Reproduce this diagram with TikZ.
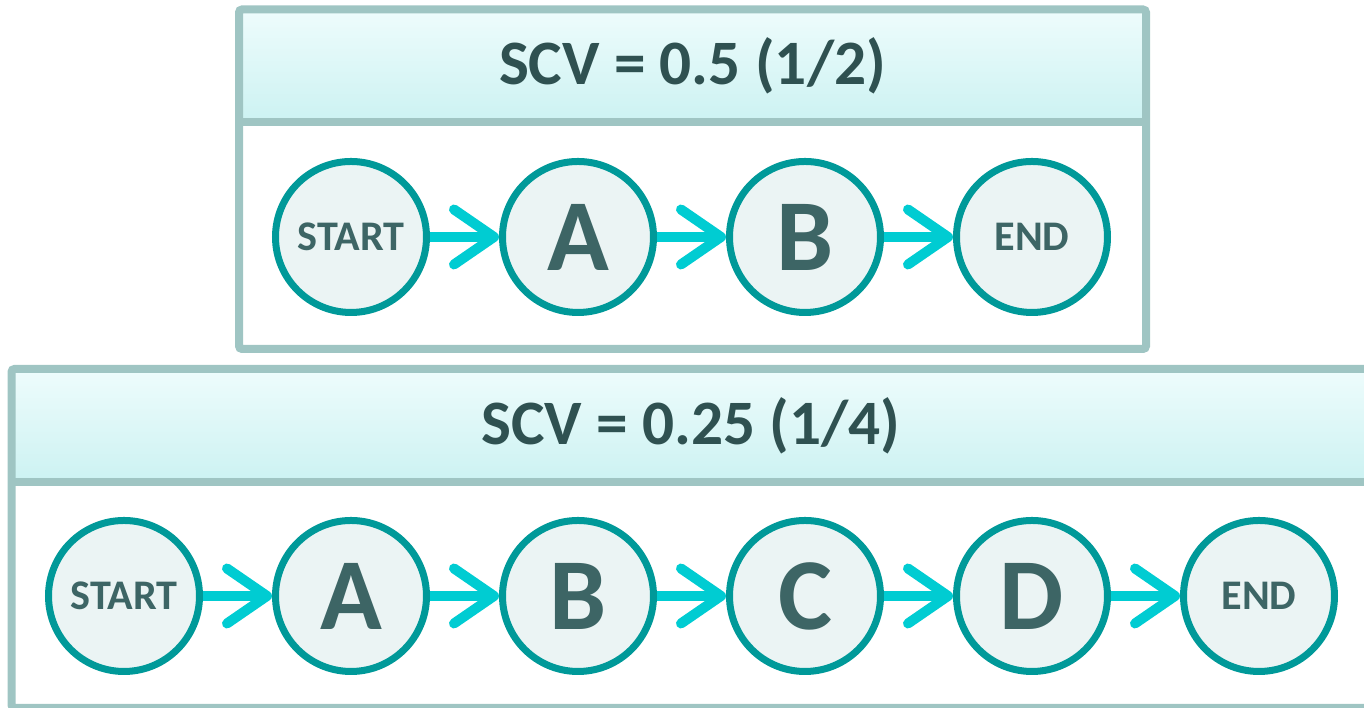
\documentclass[tikz,border=0pt]{standalone}
\usepackage{fontspec}
\setmainfont{Carlito}
\usetikzlibrary{positioning,arrows.meta}

\definecolor{frameline}{HTML}{9FC5C3}
\definecolor{headtop}{HTML}{EEFCFC}
\definecolor{headbottom}{HTML}{CCF2F2}
\definecolor{ringteal}{HTML}{009999}
\definecolor{ringfill}{HTML}{EBF4F4}
\definecolor{labeltext}{HTML}{3D6565}
\definecolor{titletext}{HTML}{2F5151}
\definecolor{flowcyan}{HTML}{00CCD2}

\begin{document}
\begin{tikzpicture}[node distance=0.69cm,
      circle node/.style={circle,draw=ringteal,fill=ringfill,line width=0.07cm,minimum size=1.51cm,inner sep=0pt,
        text=labeltext,font=\bfseries\fontsize{12}{12}\selectfont},
      big node/.style={circle node,font=\bfseries\fontsize{29}{29}\selectfont},
      flow arrow/.style={draw=flowcyan,line width=0.1cm,-{Straight Barb[length=0.4cm,width=0.55cm,round]}},
      frame/.style={draw=frameline,line width=0.08cm,rounded corners=0.03cm},
      header/.style={top color=headtop,bottom color=headbottom,draw=none},
      title node/.style={text=titletext,font=\bfseries\fontsize{18}{18}\selectfont}]

  \useasboundingbox (0,0) rectangle (13.64,7.08);

  % upper panel: two steps
  \path[header] (2.39,6.985) rectangle (11.46,5.86);
  \draw[frame] (2.39,6.985) rectangle (11.46,3.59);
  \draw[frameline,line width=0.08cm] (2.39,5.86) -- (11.46,5.86);
  \node[title node] (toptitle) at (6.925,6.42) {SCV = 0.5 (1/2)};

  \node[circle node] (topstart) at (3.51,4.71) {START};
  \node[big node,right=of topstart] (topa) {A};
  \node[big node,right=of topa] (topb) {B};
  \node[circle node,right=of topb] (topend) {END};

  \draw[flow arrow] (topstart) -- (topa);
  \draw[flow arrow] (topa) -- (topb);
  \draw[flow arrow] (topb) -- (topend);

  % lower panel: four steps, runs off the right edge
  \path[header] (0.115,3.39) rectangle (13.80,2.26);
  \draw[frame] (0.115,3.39) rectangle (13.80,0.0);
  \draw[frameline,line width=0.08cm] (0.115,2.26) -- (13.80,2.26);
  \node[title node] (bottitle) at (6.91,2.825) {SCV = 0.25 (1/4)};

  \node[circle node] (botstart) at (1.24,1.12) {START};
  \node[big node,right=of botstart] (bota) {A};
  \node[big node,right=of bota] (botb) {B};
  \node[big node,right=of botb] (botc) {C};
  \node[big node,right=of botc] (botd) {D};
  \node[circle node,right=of botd] (botend) {END};

  \draw[flow arrow] (botstart) -- (bota);
  \draw[flow arrow] (bota) -- (botb);
  \draw[flow arrow] (botb) -- (botc);
  \draw[flow arrow] (botc) -- (botd);
  \draw[flow arrow] (botd) -- (botend);
\end{tikzpicture}
\end{document}
